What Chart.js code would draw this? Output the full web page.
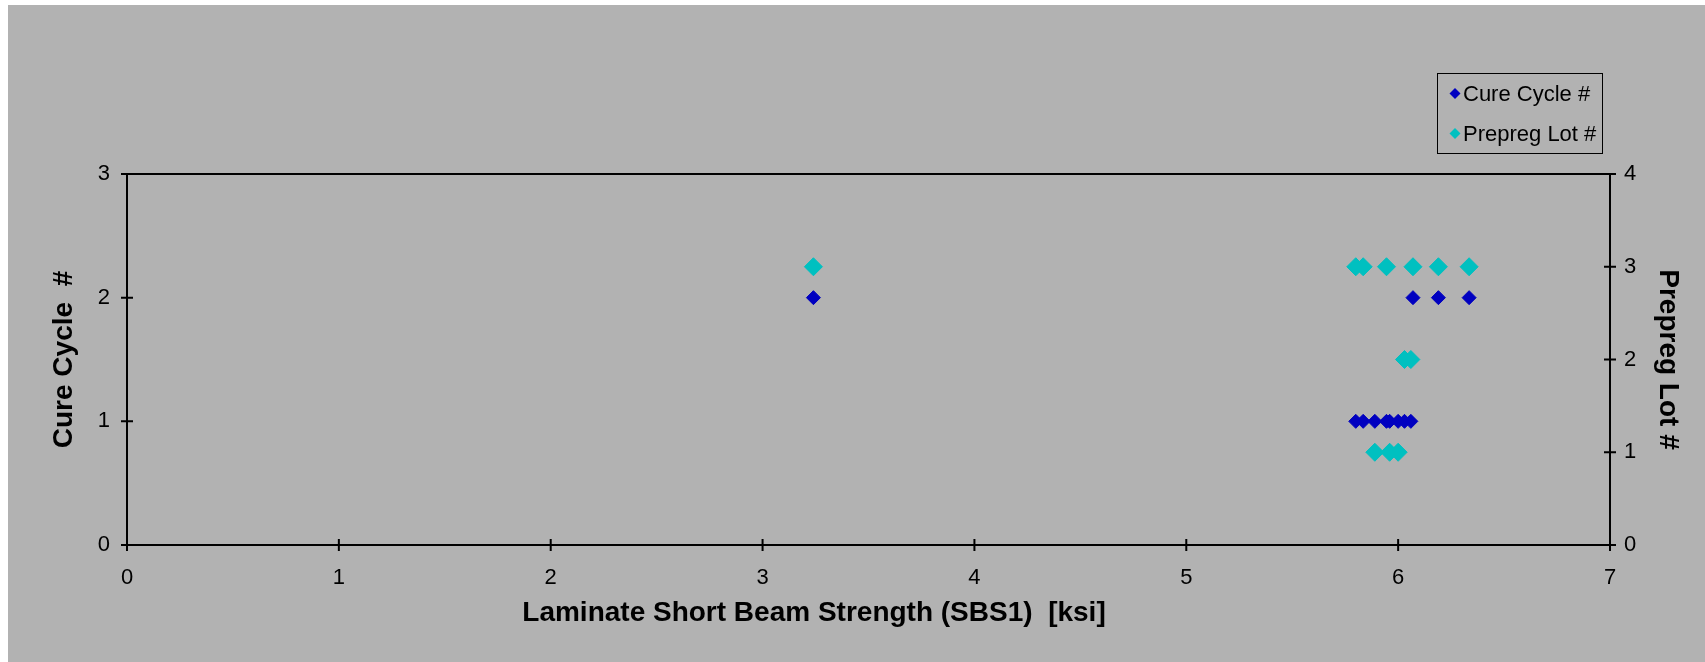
<!DOCTYPE html>
<html>
<head>
<meta charset="utf-8">
<script src="https://cdn.jsdelivr.net/npm/chart.js@4/dist/chart.umd.min.js"></script>
<style>
  html, body { margin: 0; padding: 0; background: #ffffff; }
  #wrap { position: absolute; left: 0; top: 0; width: 1705px; height: 662px; }
</style>
</head>
<body>
<div id="wrap"><canvas id="c" width="1705" height="662"></canvas></div>
<script>
// ---- data ----
const sbsValues   = [3.24, 5.80, 5.835, 5.89, 5.945, 5.96, 6.00, 6.03, 6.06, 6.07, 6.19, 6.335];
const cureCycle   = [2, 1, 1, 1, 1, 1, 1, 1, 1, 2, 2, 2];
const prepregLot  = [3, 3, 3, 1, 3, 1, 1, 2, 2, 3, 3, 3];
const seriesNames = ['Cure Cycle #', 'Prepreg Lot #'];
const xTitle = 'Laminate Short Beam Strength (SBS1)  [ksi]';
const yTitle = 'Cure Cycle  #';
const y1Title = 'Prepreg Lot #';
const xTicks = [0, 1, 2, 3, 4, 5, 6, 7];
const yTicks = [0, 1, 2, 3];
const y1Ticks = [0, 1, 2, 3, 4];

const BLUE = '#0000c0';
const CYAN = '#00c0c0';
const GRAY = '#b2b2b2';
const FONT = '"Liberation Sans", Arial, sans-serif';

const cureData = sbsValues.map((x, i) => ({ x: x, y: cureCycle[i] }));
const lotData  = sbsValues.map((x, i) => ({ x: x, y: prepregLot[i] }));

const decor = {
  id: 'decor',
  beforeDraw(chart) {
    const ctx = chart.ctx;
    ctx.save();
    ctx.fillStyle = '#ffffff';
    ctx.fillRect(0, 0, chart.width, chart.height);
    ctx.fillStyle = GRAY;
    ctx.fillRect(8, 5, chart.width - 8, chart.height - 5);
    ctx.restore();
  },
  afterDraw(chart) {
    const ctx = chart.ctx;
    const a = chart.chartArea;
    ctx.save();
    // plot frame
    ctx.strokeStyle = '#000';
    ctx.lineWidth = 2;
    ctx.strokeRect(a.left, a.top, a.right - a.left, a.bottom - a.top);
    // crossing tick marks
    ctx.beginPath();
    const sx = chart.scales.x, sy = chart.scales.y, sy1 = chart.scales.y1;
    xTicks.forEach(v => { const p = sx.getPixelForValue(v); ctx.moveTo(p, a.bottom - 6); ctx.lineTo(p, a.bottom + 6); });
    yTicks.forEach(v => { const p = sy.getPixelForValue(v); ctx.moveTo(a.left - 6, p); ctx.lineTo(a.left + 6, p); });
    y1Ticks.forEach(v => { const p = sy1.getPixelForValue(v); ctx.moveTo(a.right - 6, p); ctx.lineTo(a.right + 6, p); });
    ctx.stroke();

    // axis titles
    ctx.fillStyle = '#000';
    ctx.font = 'bold 28px ' + FONT;
    ctx.textAlign = 'center';
    ctx.textBaseline = 'alphabetic';
    ctx.fillText(xTitle, 814, 621);
    ctx.save();
    ctx.translate(72, (a.top + a.bottom) / 2);
    ctx.rotate(-Math.PI / 2);
    ctx.fillText(yTitle, 0, 0);
    ctx.restore();
    ctx.save();
    ctx.translate(1660, (a.top + a.bottom) / 2);
    ctx.rotate(Math.PI / 2);
    ctx.fillText(y1Title, 0, 0);
    ctx.restore();

    // legend
    ctx.lineWidth = 1;
    ctx.strokeStyle = '#000';
    ctx.strokeRect(1437.5, 73.5, 165, 80);
    const rows = [{ c: BLUE, y: 94.5 }, { c: CYAN, y: 134.5 }];
    ctx.font = '22px ' + FONT;
    ctx.textAlign = 'left';
    ctx.textBaseline = 'middle';
    rows.forEach((r, i) => {
      const cx = 1455, cy = r.y - 1, s = 5.5;
      ctx.beginPath();
      ctx.moveTo(cx - s, cy); ctx.lineTo(cx, cy - s); ctx.lineTo(cx + s, cy); ctx.lineTo(cx, cy + s); ctx.closePath();
      ctx.fillStyle = r.c; ctx.fill();
      ctx.fillStyle = '#000';
      ctx.fillText(seriesNames[i], 1463, r.y);
    });
    ctx.restore();
  }
};

new Chart(document.getElementById('c'), {
  type: 'scatter',
  data: {
    datasets: [
      { label: seriesNames[0], data: cureData, yAxisID: 'y', pointStyle: 'rectRot',
        pointRadius: 7, pointHoverRadius: 7, backgroundColor: BLUE, borderColor: BLUE, borderWidth: 1 },
      { label: seriesNames[1], data: lotData, yAxisID: 'y1', pointStyle: 'rectRot',
        pointRadius: 9, pointHoverRadius: 9, backgroundColor: CYAN, borderColor: CYAN, borderWidth: 1 }
    ]
  },
  options: {
    responsive: false,
    animation: false,
    events: [],
    layout: { padding: { top: 174, left: 0, right: 0, bottom: 0 } },
    plugins: { legend: { display: false }, tooltip: { enabled: false } },
    scales: {
      x: {
        type: 'linear', min: 0, max: 7,
        afterFit(s) { s.height = 117; },
        afterBuildTicks(s) { s.ticks = xTicks.map(v => ({ value: v })); },
        ticks: { color: '#000', font: { family: FONT, size: 22 }, padding: 20, maxRotation: 0 },
        grid: { display: true, drawOnChartArea: false, drawTicks: false },
        border: { display: true, color: '#000', width: 2 }
      },
      y: {
        type: 'linear', position: 'left', min: 0, max: 3,
        afterFit(s) { s.width = 127; },
        afterBuildTicks(s) { s.ticks = yTicks.map(v => ({ value: v })); },
        ticks: { color: '#000', font: { family: FONT, size: 22 }, padding: 17 },
        grid: { display: true, drawOnChartArea: false, drawTicks: false },
        border: { display: true, color: '#000', width: 2 }
      },
      y1: {
        type: 'linear', position: 'right', min: 0, max: 4,
        afterFit(s) { s.width = 95; },
        afterBuildTicks(s) { s.ticks = y1Ticks.map(v => ({ value: v })); },
        ticks: { color: '#000', font: { family: FONT, size: 22 }, padding: 14 },
        grid: { display: true, drawOnChartArea: false, drawTicks: false },
        border: { display: true, color: '#000', width: 2 }
      }
    }
  },
  plugins: [decor]
});
</script>
</body>
</html>
